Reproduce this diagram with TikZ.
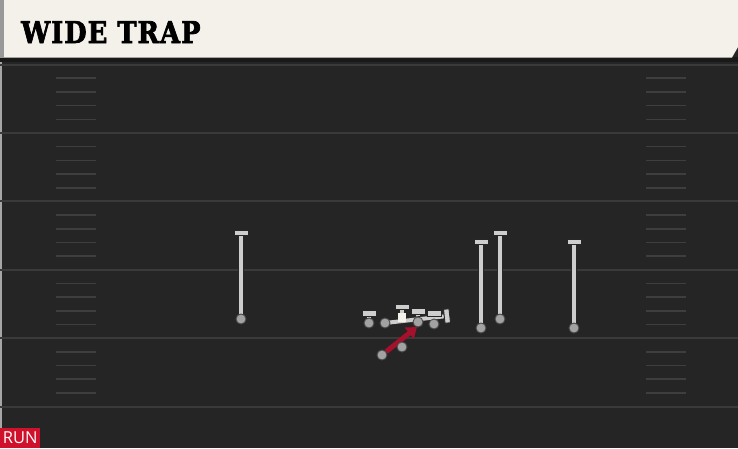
\documentclass[tikz,border=0pt]{standalone}
\usepackage{fontspec}
\setmainfont{DejaVu Serif}
\setsansfont{Open Sans}
\newfontfamily\titlefont{DejaVu Serif}[BoldFeatures={FakeBold=2.5}, LetterSpace=4]
\usetikzlibrary{arrows.meta,positioning}

\definecolor{field}{HTML}{252525}
\definecolor{yardgray}{HTML}{3A3A3A}
\definecolor{hashgray}{HTML}{3E3E3E}
\definecolor{cream}{HTML}{F4F1EA}
\definecolor{routegray}{HTML}{CDCDCD}
\definecolor{dotgray}{HTML}{A2A2A2}
\definecolor{runred}{HTML}{A5102C}
\definecolor{tagred}{HTML}{D0112B}

\pgfdeclarelayer{background}
\pgfdeclarelayer{routes}
\pgfsetlayers{background,routes,main}

\tikzset{
  yardline/.style={draw=yardgray, line width=2pt},
  hashmark/.style={draw=hashgray, line width=1.6pt},
  player/.style={circle, fill=dotgray, draw=black!70, line width=0.9pt,
    minimum size=10pt, inner sep=0pt},
  snapper/.style={rectangle, fill=cream, minimum size=8.5pt, inner sep=0pt},
  blockcap/.style={rectangle, fill=routegray, draw=black!85, line width=0.9pt,
    minimum width=14pt, minimum height=5.5pt, inner sep=0pt},
  route/.style={draw=routegray, line width=4pt,
    preaction={draw=black!85, line width=6pt}},
  runpath/.style={draw=runred, line width=5pt,
    -{Triangle[length=10pt, width=14pt]}},
  playtitle/.style={anchor=base west, inner sep=0pt,
    font=\titlefont\fontsize{30}{30}\selectfont\bfseries},
  playtag/.style={fill=tagred, text=white, inner sep=0pt, minimum width=40pt,
    minimum height=20pt, font=\sffamily\fontsize{16.5}{16.5}\selectfont}
}

\begin{document}
\begin{tikzpicture}[x=1pt,y=-1pt]
  \useasboundingbox (0,0) rectangle (738,448);

  \begin{pgfonlayer}{background}
  % Field
  \fill[field] (0,0) rectangle (738,448);
  \fill[black!35] (0,60) rectangle (1.5,448);
  \foreach \i in {0,...,5} {
    \pgfmathsetmacro\yy{64.6+68.4*\i}
    \draw[yardline] (0,\yy) -- (738,\yy);
  }
  \foreach \i in {0,...,4} {
    \foreach \k in {1,...,4} {
      \pgfmathsetmacro\yy{64.6+68.4*\i+13.68*\k}
      \draw[hashmark] (56,\yy) -- (96,\yy);
      \draw[hashmark] (646,\yy) -- (686,\yy);
    }
  }

  % Header
  \fill[black!90] (0,57) rectangle (738,62);
  \fill[cream] (0,0) -- (738,0) -- (738,47) -- (732,57.5) -- (0,57.5) -- cycle;
  \fill[black!40] (0,0) rectangle (4,57.5);
  \end{pgfonlayer}
  \node[playtitle] (title) at (21,43) {\scalebox{0.86}[1]{WIDE TRAP}};

  % Define nodes
  \node[player]              (wr-l)      at (241,319) {};
  \node[blockcap]            (wr-l-end)  at (241,233) {};
  \node[player]              (t-l)       at (369,323) {};
  \node[blockcap]            (t-l-end)   at (369,313.5) {};
  \node[player]              (g-l)       at (385,323) {};
  \node[blockcap, rotate=96] (g-l-end)   at (447,316) {};
  \node[snapper]             (c)         at (402,317.5) {};
  \node[blockcap]            (c-end)     at (402,307) {};
  \node[player]              (g-r)       at (418,322) {};
  \node[blockcap]            (g-r-end)   at (418,311.5) {};
  \node[player]              (t-r)       at (434,324) {};
  \node[blockcap]            (t-r-end)   at (434,313.5) {};
  \node[player]              (qb)        at (402,347) {};
  \node[player]              (rb)        at (382,355) {};
  \coordinate                (rb-end)    at (417,327);
  \node[player]              (te-r)      at (481,328) {};
  \node[blockcap]            (te-r-end)  at (481,242) {};
  \node[player]              (wr-s)      at (500,319) {};
  \node[blockcap]            (wr-s-end)  at (500,233) {};
  \node[player]              (wr-r)      at (574,328) {};
  \node[blockcap]            (wr-r-end)  at (574,242) {};

  % Connect the nodes
  \begin{pgfonlayer}{routes}
    \draw[route] (wr-l) -- (wr-l-end);
    \draw[route] (t-l) -- (t-l-end);
    \draw[route] (c) -- (c-end);
    \draw[route] (g-r) -- (g-r-end);
    \draw[route] (t-r) -- (t-r-end);
    \draw[route] (te-r) -- (te-r-end);
    \draw[route] (wr-s) -- (wr-s-end);
    \draw[route] (wr-r) -- (wr-r-end);
    \draw[route] (g-l.center) -- (g-l-end);
    \draw[runpath] (rb) -- (rb-end);
  \end{pgfonlayer}

  % Play type
  \node[playtag, anchor=south west] (kind) at (0,448) {RUN};

\end{tikzpicture}
\end{document}
